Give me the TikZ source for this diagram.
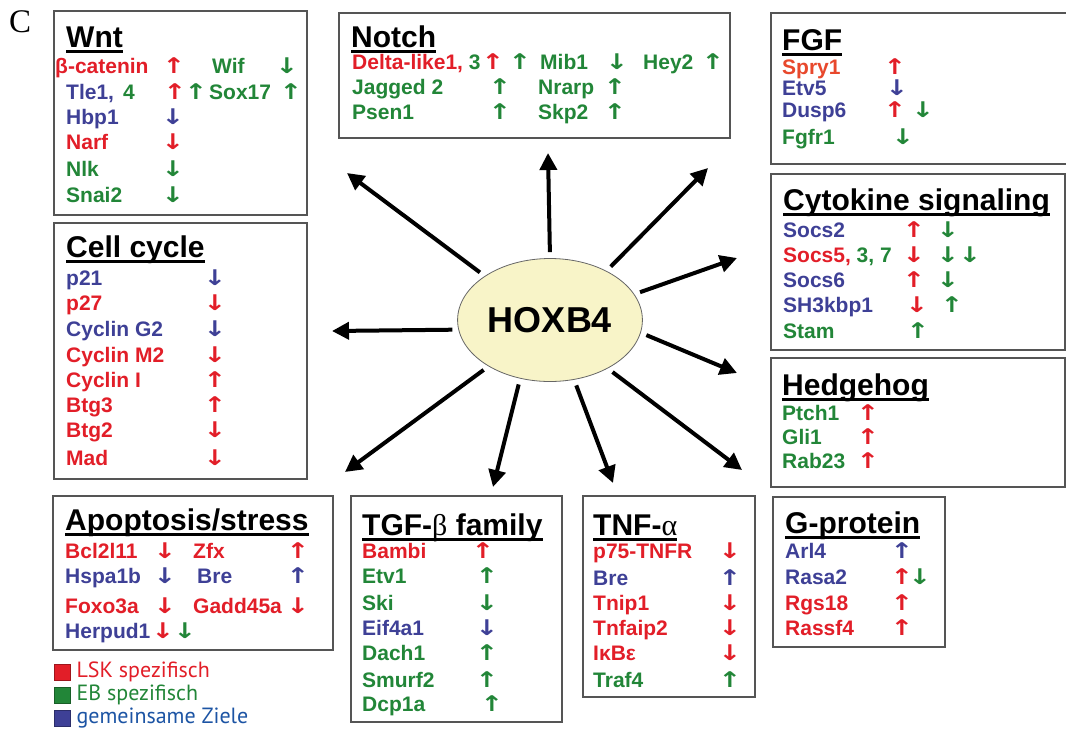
\documentclass[tikz,border=0pt]{standalone}
\usepackage{fontspec}
\setmainfont{Liberation Sans}
\newfontfamily\grkf{Liberation Serif}
\newfontfamily\legf{PT Sans}
\newfontfamily\arrf{DejaVu Sans}
\usetikzlibrary{arrows.meta,shapes.geometric,positioning}

\definecolor{lsk}{RGB}{226,30,40}
\definecolor{lskor}{RGB}{232,72,44}
\definecolor{eb}{RGB}{34,134,56}
\definecolor{both}{RGB}{62,64,150}
\definecolor{legblue}{RGB}{28,84,164}
\definecolor{boxgray}{RGB}{85,85,85}
\definecolor{hoxfill}{RGB}{248,244,200}

\newcommand\upar{\scalebox{1.5}[1.2]{↑}}
\newcommand\dnar{\scalebox{1.5}[1.2]{↓}}

\tikzset{
  grp/.style={draw=boxgray,line width=1.5pt,anchor=north west,inner sep=0pt},
  ttl/.style={anchor=base west,inner sep=0pt,font=\fontsize{30}{30}\selectfont\bfseries,
    append after command={([yshift=-4.5pt]\tikzlastnode.base west) edge[line width=2.8pt] ([yshift=-4.5pt]\tikzlastnode.base east)}},
  gene/.style={anchor=base west,inner sep=0pt,font=\fontsize{21}{21}\selectfont\bfseries},
  reg/.style={anchor=base,inner sep=0pt,font=\arrf\fontsize{18}{18}\selectfont\bfseries},
  spoke/.style={line width=4pt,-{Triangle[length=17pt,width=17pt]},shorten <=6pt},
  key/.style={anchor=west,inner sep=0pt,minimum size=16pt},
  keytext/.style={anchor=west,inner sep=0pt,font=\legf\fontsize{22}{22}\selectfont}
}

\begin{document}
\begin{tikzpicture}[x=1pt,y=-1pt]
\fill[white] (0,0) rectangle (1066,732);
\useasboundingbox (0,0) rectangle (1066,732);

\node[anchor=base west,inner sep=0pt,font=\grkf\fontsize{33}{33}\selectfont] (lblC) at (9,32) {C};

% centre
\node[ellipse,draw=black!60,line width=0.8pt,fill=hoxfill,minimum width=175pt,minimum height=123pt,
  font=\fontsize{36}{36}\selectfont\bfseries] (hox) at (550,320) {HOXB4};

% Wnt
\node[grp,minimum width=253pt,minimum height=204pt] (wnt) at (53,10) {};
\node[ttl] (wntT) at (66,47) {Wnt};
\node[gene,lsk] (bcat) at (55,73) {β-catenin};
\node[reg,lsk] (bcatR) at (174,73) {\upar};
\node[gene,eb] (wif) at (212,73) {Wif};
\node[reg,eb] (wifR) at (287,73) {\dnar};
\node[gene,both] (tle) at (66,99) {Tle1,\hspace{9pt}\textcolor{eb}{4}};
\node[reg,lsk] (tleR1) at (175,99) {\upar};
\node[reg,eb] (tleR2) at (196,99) {\upar};
\node[gene,eb] (sox) at (209,99) {Sox17};
\node[reg,eb] (soxR) at (291,99) {\upar};
\node[gene,both] (hbp) at (66,124) {Hbp1};
\node[reg,both] (hbpR) at (173,124) {\dnar};
\node[gene,lsk] (narf) at (66,149) {Narf};
\node[reg,lsk] (narfR) at (173,149) {\dnar};
\node[gene,eb] (nlk) at (66,176) {Nlk};
\node[reg,eb] (nlkR) at (173,176) {\dnar};
\node[gene,eb] (snai) at (66,202) {Snai2};
\node[reg,eb] (snaiR) at (173,202) {\dnar};

% Notch
\node[grp,minimum width=391pt,minimum height=125pt] (notch) at (338,12) {};
\node[ttl] (notchT) at (351,47) {Notch};
\node[gene,lsk] (dll) at (352,69) {Delta-like1,\textcolor{eb}{\ 3}};
\node[reg,lsk] (dllR1) at (493,69) {\upar};
\node[reg,eb] (dllR2) at (520,69) {\upar};
\node[gene,eb] (mib) at (540,69) {Mib1};
\node[reg,eb] (mibR) at (617,69) {\dnar};
\node[gene,eb] (hey) at (643,69) {Hey2};
\node[reg,eb] (heyR) at (713,69) {\upar};
\node[gene,eb] (jag) at (352,94) {Jagged 2};
\node[reg,eb] (jagR) at (500,94) {\upar};
\node[gene,eb] (nrarp) at (538,94) {Nrarp};
\node[reg,eb] (nrarpR) at (615,94) {\upar};
\node[gene,eb] (psen) at (352,119) {Psen1};
\node[reg,eb] (psenR) at (500,119) {\upar};
\node[gene,eb] (skp) at (538,119) {Skp2};
\node[reg,eb] (skpR) at (615,119) {\upar};

% FGF
\node[grp,minimum width=296pt,minimum height=151pt] (fgf) at (770,12) {};
\node[ttl] (fgfT) at (782,50) {FGF};
\node[gene,lskor] (spry) at (782,74) {Spry1};
\node[reg,lsk] (spryR) at (895,74) {\upar};
\node[gene,both] (etv5) at (782,95) {Etv5};
\node[reg,both] (etv5R) at (897,95) {\dnar};
\node[gene,both] (dusp) at (782,117) {Dusp6};
\node[reg,lsk] (duspR1) at (895,117) {\upar};
\node[reg,eb] (duspR2) at (923,117) {\dnar};
\node[gene,eb] (fgfr) at (782,144) {Fgfr1};
\node[reg,eb] (fgfrR) at (903,144) {\dnar};

% Cytokine signaling
\node[grp,minimum width=294pt,minimum height=176pt] (cyto) at (770,173) {};
\node[ttl] (cytoT) at (783,210) {Cytokine signaling};
\node[gene,both] (socs2) at (783,237) {Socs2};
\node[reg,lsk] (socs2R1) at (914,237) {\upar};
\node[reg,eb] (socs2R2) at (948,237) {\dnar};
\node[gene,lsk] (socs5) at (783,262) {Socs5,\textcolor{eb}{\ 3, 7}};
\node[reg,lsk] (socs5R1) at (914,262) {\dnar};
\node[reg,eb] (socs5R2) at (948,262) {\dnar};
\node[reg,eb] (socs5R3) at (970,262) {\dnar};
\node[gene,both] (socs6) at (783,287) {Socs6};
\node[reg,lsk] (socs6R1) at (914,287) {\upar};
\node[reg,eb] (socs6R2) at (948,287) {\dnar};
\node[gene,both] (sh3) at (783,312) {SH3kbp1};
\node[reg,lsk] (sh3R1) at (917,312) {\dnar};
\node[reg,eb] (sh3R2) at (952,312) {\upar};
\node[gene,eb] (stam) at (783,338) {Stam};
\node[reg,eb] (stamR) at (918,338) {\upar};

% Hedgehog
\node[grp,minimum width=294pt,minimum height=129pt] (hh) at (770,357) {};
\node[ttl] (hhT) at (782,395) {Hedgehog};
\node[gene,eb] (ptch) at (782,420) {Ptch1};
\node[reg,lsk] (ptchR) at (868,420) {\upar};
\node[gene,eb] (gli) at (782,444) {Gli1};
\node[reg,lsk] (gliR) at (868,444) {\upar};
\node[gene,eb] (rab) at (782,468) {Rab23};
\node[reg,lsk] (rabR) at (868,468) {\upar};

% Cell cycle
\node[grp,minimum width=253pt,minimum height=256pt] (cc) at (53,222) {};
\node[ttl] (ccT) at (66,257) {Cell cycle};
\node[gene,both] (p21) at (66,285) {p21};
\node[reg,both] (p21R) at (215,285) {\dnar};
\node[gene,lsk] (p27) at (66,310) {p27};
\node[reg,lsk] (p27R) at (215,310) {\dnar};
\node[gene,both] (cg2) at (66,336) {Cyclin G2};
\node[reg,both] (cg2R) at (215,336) {\dnar};
\node[gene,lsk] (cm2) at (66,362) {Cyclin M2};
\node[reg,lsk] (cm2R) at (215,362) {\dnar};
\node[gene,lsk] (ci) at (66,387) {Cyclin I};
\node[reg,lsk] (ciR) at (215,387) {\upar};
\node[gene,lsk] (btg3) at (66,412) {Btg3};
\node[reg,lsk] (btg3R) at (215,412) {\upar};
\node[gene,lsk] (btg2) at (66,437) {Btg2};
\node[reg,lsk] (btg2R) at (215,437) {\dnar};
\node[gene,lsk] (mad) at (66,465) {Mad};
\node[reg,lsk] (madR) at (215,465) {\dnar};

% Apoptosis/stress
\node[grp,minimum width=280pt,minimum height=154pt] (apo) at (52,495) {};
\node[ttl] (apoT) at (65,530) {Apoptosis/stress};
\node[gene,lsk] (bcl) at (65,558) {Bcl2l11};
\node[reg,lsk] (bclR) at (165,558) {\dnar};
\node[gene,lsk] (zfx) at (193,558) {Zfx};
\node[reg,lsk] (zfxR) at (298,558) {\upar};
\node[gene,both] (hspa) at (65,583) {Hspa1b};
\node[reg,both] (hspaR) at (165,583) {\dnar};
\node[gene,both] (bre) at (197,583) {Bre};
\node[reg,both] (breR) at (298,583) {\upar};
\node[gene,lsk] (foxo) at (65,613) {Foxo3a};
\node[reg,lsk] (foxoR) at (165,613) {\dnar};
\node[gene,lsk] (gadd) at (193,613) {Gadd45a};
\node[reg,lsk] (gaddR) at (298,613) {\dnar};
\node[gene,both] (herp) at (65,638) {Herpud1};
\node[reg,lsk] (herpR1) at (163,638) {\dnar};
\node[reg,eb] (herpR2) at (185,638) {\dnar};

% legend
\node[key,fill=lsk,draw=lsk!70!black] (k1) at (54,672) {};
\node[keytext,lsk,right=6pt of k1] (k1t) {LSK spezifisch};
\node[key,fill=eb,draw=eb!70!black] (k2) at (54,695) {};
\node[keytext,eb,right=6pt of k2] (k2t) {EB spezifisch};
\node[key,fill=both,draw=both!70!black] (k3) at (54,718) {};
\node[keytext,legblue,right=6pt of k3] (k3t) {gemeinsame Ziele};

% TGF-beta family
\node[grp,minimum width=211pt,minimum height=226pt] (tgf) at (350,495) {};
\node[ttl] (tgfT) at (362,535) {TGF-{\grkf\mdseries β} family};
\node[gene,lsk] (bambi) at (362,558) {Bambi};
\node[reg,lsk] (bambiR) at (483,558) {\upar};
\node[gene,eb] (etv1) at (362,583) {Etv1};
\node[reg,eb] (etv1R) at (487,583) {\upar};
\node[gene,eb] (ski) at (362,610) {Ski};
\node[reg,eb] (skiR) at (487,610) {\dnar};
\node[gene,both] (eif) at (362,635) {Eif4a1};
\node[reg,both] (eifR) at (487,635) {\dnar};
\node[gene,eb] (dach) at (362,660) {Dach1};
\node[reg,eb] (dachR) at (487,660) {\upar};
\node[gene,eb] (smurf) at (362,687) {Smurf2};
\node[reg,eb] (smurfR) at (487,687) {\upar};
\node[gene,eb] (dcp) at (362,711) {Dcp1a};
\node[reg,eb] (dcpR) at (492,711) {\upar};

% TNF-alpha
\node[grp,minimum width=172pt,minimum height=201pt] (tnf) at (582,495) {};
\node[ttl] (tnfT) at (593,535) {TNF-{\grkf\mdseries α}};
\node[gene,lsk] (p75) at (593,558) {p75-TNFR};
\node[reg,lsk] (p75R) at (730,558) {\dnar};
\node[gene,both] (bre2) at (593,585) {Bre};
\node[reg,both] (bre2R) at (730,585) {\upar};
\node[gene,lsk] (tnip) at (593,610) {Tnip1};
\node[reg,lsk] (tnipR) at (730,610) {\dnar};
\node[gene,lsk] (tnfa) at (593,635) {Tnfaip2};
\node[reg,lsk] (tnfaR) at (730,635) {\dnar};
\node[gene,lsk] (ikb) at (593,660) {IκBε};
\node[reg,lsk] (ikbR) at (730,660) {\dnar};
\node[gene,eb] (traf) at (593,687) {Traf4};
\node[reg,eb] (trafR) at (730,687) {\upar};

% G-protein
\node[grp,minimum width=172pt,minimum height=150pt] (gp) at (772,496) {};
\node[ttl] (gpT) at (785,533) {G-protein};
\node[gene,both] (arl) at (785,558) {Arl4};
\node[reg,both] (arlR) at (902,558) {\upar};
\node[gene,both] (rasa) at (785,584) {Rasa2};
\node[reg,lsk] (rasaR1) at (902,584) {\upar};
\node[reg,eb] (rasaR2) at (920,584) {\dnar};
\node[gene,lsk] (rgs) at (785,610) {Rgs18};
\node[reg,lsk] (rgsR) at (902,610) {\upar};
\node[gene,lsk] (rassf) at (785,635) {Rassf4};
\node[reg,lsk] (rassfR) at (902,635) {\upar};

% spokes
\coordinate (tipW) at (347,173);
\coordinate (tipN) at (548,153);
\coordinate (tipF) at (708,168);
\coordinate (tipCy) at (737,258);
\coordinate (tipCC) at (332,331);
\coordinate (tipH) at (737,373);
\coordinate (tipA) at (345,472);
\coordinate (tipT) at (493,487);
\coordinate (tipTN) at (613,483);
\coordinate (tipG) at (742,470);
\draw[spoke] (hox.146) -- (tipW);
\draw[spoke] (hox.90) -- (tipN);
\draw[spoke] (hox.41) -- (tipF);
\draw[spoke] (hox.17) -- (tipCy);
\draw[spoke] (hox.186) -- (tipCC);
\draw[spoke] (hox.-8) -- (tipH);
\draw[spoke] (hox.217) -- (tipA);
\draw[spoke] (hox.243) -- (tipT);
\draw[spoke] (hox.292) -- (tipTN);
\draw[spoke] (hox.320) -- (tipG);
\end{tikzpicture}
\end{document}
